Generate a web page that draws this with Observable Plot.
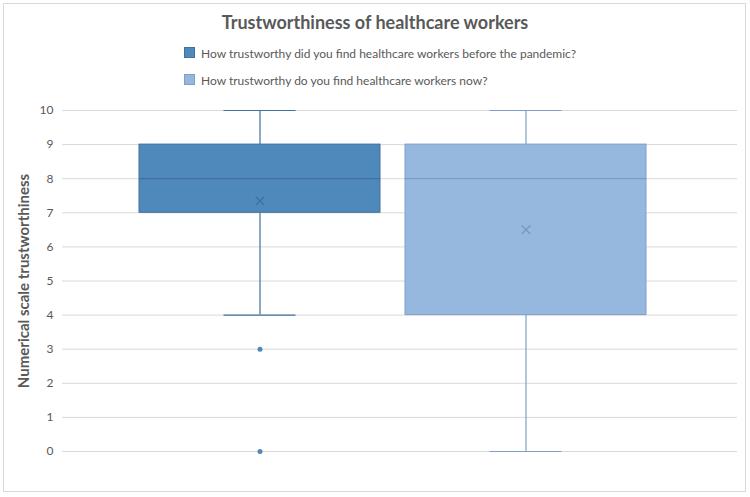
<!DOCTYPE html>
<html>
<head>
<meta charset="utf-8">
<script src="https://cdn.jsdelivr.net/npm/d3@7"></script>
<script src="https://cdn.jsdelivr.net/npm/@observablehq/plot@0.6"></script>
<style>
  body { margin: 0; background: #fff; font-family: Lato, "Open Sans", sans-serif; }
  #frame { position: absolute; left: 3px; top: 3px; width: 741px; height: 487px; border: 1px solid #d9d9d9; }
  #title { position: absolute; top: 9px; left: 0; width: 750px; text-align: center; font-size: 18px; line-height: 26px; font-weight: bold; color: #595959; }
  .leg { position: absolute; left: 184px; height: 13px; font-size: 12px; line-height: 13px; color: #595959; white-space: nowrap; }
  .leg .sw { position: absolute; left: 0; top: 0; width: 11px; height: 11px; }
  .leg .tx { position: absolute; left: 17px; top: 0; }
  #chart { position: absolute; left: 0; top: 95px; }
</style>
</head>
<body>
<div id="frame"></div>
<div id="title"></div>
<div id="legend"></div>
<div id="chart"></div>
<script>
const title = "Trustworthiness of healthcare workers";
const yLabel = "Numerical scale trustworthiness";
const series = [
  "How trustworthy did you find healthcare workers before the pandemic?",
  "How trustworthy do you find healthcare workers now?"
];
const whiskerLow = [4, 0];
const q1 = [7, 4];
const median = [8, 8];
const q3 = [9, 9];
const whiskerHigh = [10, 10];
const mean = [7.35, 6.5];
const outlierSeries = [0, 0];
const outlierValues = [3, 0];
const yTicks = [0, 1, 2, 3, 4, 5, 6, 7, 8, 9, 10];

const fills = ["#4f88bb", "#97b8de"];
const strokes = ["#41719c", "#7f9fc9"];
const darkLine = ["#3f6d97", "#7393bf"];

document.getElementById("title").textContent = title;
const legend = document.getElementById("legend");
series.forEach((s, i) => {
  const row = document.createElement("div");
  row.className = "leg";
  row.style.top = (47 + i * 27) + "px";
  row.innerHTML = `<span class="sw" style="background:${fills[i]};border:1px solid ${strokes[i]};box-sizing:border-box"></span><span class="tx"></span>`;
  row.querySelector(".tx").textContent = s;
  legend.appendChild(row);
});

const boxes = series.map((s, i) => ({
  s, lo: whiskerLow[i], q1: q1[i], med: median[i], q3: q3[i], hi: whiskerHigh[i], mean: mean[i],
  fill: fills[i], stroke: strokes[i], dark: darkLine[i]
}));
const outliers = outlierValues.map((v, i) => ({ s: series[outlierSeries[i]], v, fill: fills[outlierSeries[i]] }));

const chart = Plot.plot({
  width: 750,
  height: 395,
  marginTop: 15,
  marginBottom: 39,
  marginLeft: 62,
  marginRight: 13,
  style: { fontFamily: "Lato, 'Open Sans', sans-serif", fontSize: "12px", color: "#595959", background: "transparent" },
  x: { type: "band", domain: series, range: [139, 646], paddingInner: 0.094, paddingOuter: 0, axis: null },
  y: { domain: [0, 10] },
  marks: [
    Plot.ruleY(yTicks, { stroke: "#d9d9d9", strokeWidth: 1, strokeOpacity: 1 }),
    Plot.axisY({ ticks: yTicks, tickSize: 0, tickPadding: 9, fontSize: 12, color: "#595959",
      label: yLabel, labelAnchor: "center", labelArrow: "none", labelOffset: 44 }),
    Plot.ruleX(boxes, { x: "s", y1: "lo", y2: "q1", stroke: "stroke", strokeWidth: 1.2 }),
    Plot.ruleX(boxes, { x: "s", y1: "q3", y2: "hi", stroke: "stroke", strokeWidth: 1.2 }),
    Plot.tickY(boxes, { x: "s", y: "lo", stroke: "stroke", strokeWidth: 1.2, insetLeft: 84.5, insetRight: 84.5 }),
    Plot.tickY(boxes, { x: "s", y: "hi", stroke: "stroke", strokeWidth: 1.2, insetLeft: 84.5, insetRight: 84.5 }),
    Plot.barY(boxes, { x: "s", y1: "q1", y2: "q3", fill: "fill", stroke: "stroke", strokeWidth: 1 }),
    Plot.tickY(boxes, { x: "s", y: "med", stroke: "dark", strokeWidth: 1 }),
    Plot.dot(boxes, { x: "s", y: "mean", symbol: "times", r: 4, stroke: "dark", strokeWidth: 1.2 }),
    Plot.dot(outliers, { x: "s", y: "v", r: 2.5, fill: "fill", stroke: null })
  ]
});
chart.querySelectorAll('[aria-label="y-axis label"] text, [aria-label="y-axis label"]').forEach(el => {
  el.setAttribute("font-weight", "bold");
  el.setAttribute("font-size", "15");
});
document.getElementById("chart").appendChild(chart);
</script>
</body>
</html>
